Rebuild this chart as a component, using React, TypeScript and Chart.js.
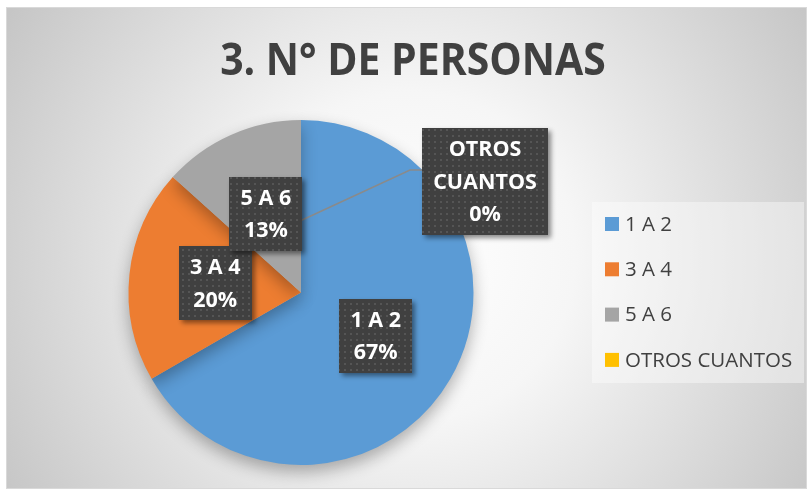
import React, { useEffect, useRef } from "react";
import { Chart, registerables } from "chart.js";

Chart.register(...registerables);

const TITLE = "3. N° DE PERSONAS";
const categories = ["1 A 2", "3 A 4", "5 A 6", "OTROS CUANTOS"];
const labelLines = [["1 A 2"], ["3 A 4"], ["5 A 6"], ["OTROS", "CUANTOS"]];
const counts = [10, 3, 2, 0];
const colors = ["#5B9BD5", "#ED7D31", "#A5A5A5", "#FFC000"];

const W = 801;
const H = 482;

function makePattern(ctx: CanvasRenderingContext2D) {
  const c = document.createElement("canvas");
  c.width = 6;
  c.height = 6;
  const p = c.getContext("2d")!;
  p.fillStyle = "#404040";
  p.fillRect(0, 0, 6, 6);
  p.fillStyle = "#555555";
  p.fillRect(2, 2, 2, 2);
  return ctx.createPattern(c, "repeat")!;
}

const bgPlugin = {
  id: "bgPlugin",
  beforeDraw(chart: any) {
    const ctx = chart.ctx as CanvasRenderingContext2D;
    ctx.save();
    const g = ctx.createRadialGradient(405, 250, 0, 405, 250, 470);
    g.addColorStop(0, "#ffffff");
    g.addColorStop(0.35, "#f6f6f6");
    g.addColorStop(1, "#c6c6c6");
    ctx.fillStyle = g;
    ctx.fillRect(0, 0, W, H);
    ctx.strokeStyle = "#d9d9d9";
    ctx.lineWidth = 1;
    ctx.strokeRect(0.5, 0.5, W - 1, H - 1);
    // title
    ctx.save();
    ctx.translate(407, 68);
    ctx.scale(0.93, 1);
    ctx.fillStyle = "#404040";
    ctx.font = "bold 44px 'Open Sans'";
    ctx.textAlign = "center";
    ctx.textBaseline = "alphabetic";
    ctx.fillText(TITLE, 0, 0);
    ctx.restore();
    // legend
    ctx.fillStyle = "rgba(255,255,255,0.4)";
    ctx.fillRect(586, 195, 212, 181);
    ctx.font = "20.5px 'Open Sans'";
    ctx.textAlign = "left";
    ctx.textBaseline = "middle";
    categories.forEach((c, i) => {
      const y = 217 + i * 45.3;
      ctx.fillStyle = colors[i];
      ctx.fillRect(599, y - 7, 14, 14);
      ctx.fillStyle = "#404040";
      ctx.fillText(c, 619, y + 1);
    });
    ctx.restore();
  },
  beforeDatasetsDraw(chart: any) {
    const ctx = chart.ctx as CanvasRenderingContext2D;
    ctx.save();
    ctx.shadowColor = "rgba(0,0,0,0.3)";
    ctx.shadowBlur = 16;
    ctx.shadowOffsetY = 7;
  },
  afterDatasetsDraw(chart: any) {
    const ctx = chart.ctx as CanvasRenderingContext2D;
    ctx.restore();
    const meta = chart.getDatasetMeta(0);
    const arc0 = meta.data[0];
    const cx = arc0.x;
    const cy = arc0.y;
    const total = counts.reduce((a, b) => a + b, 0);
    const pattern = makePattern(ctx);

    // leader line for last (zero) slice
    ctx.save();
    ctx.strokeStyle = "#8a8a8a";
    ctx.lineWidth = 1.5;
    ctx.beginPath();
    ctx.moveTo(cx, cy - 72);
    ctx.lineTo(cx + 109, cy - 122.5);
    ctx.lineTo(cx + 122, cy - 122.5);
    ctx.stroke();
    ctx.restore();

    [0, 1, 2, 3].forEach((i) => {
      const arc = meta.data[i];
      const p = arc.getCenterPoint();
      let px = p.x;
      let py = p.y;
      if (i === 3) {
        px = cx + 184;
        py = cy - 111;
      }
      const pct = Math.round((counts[i] / total) * 100) + "%";
      const lines = [...labelLines[i], pct];
      ctx.save();
      ctx.font = "bold 21.5px 'Open Sans'";
      const tw = Math.max(...lines.map((l) => ctx.measureText(l).width));
      const bw = Math.round(tw + 22);
      const lh = 32.5;
      const bh = Math.round(lines.length * lh + 9);
      const bx = Math.round(px - bw / 2);
      const by = Math.round(py - bh / 2);
      ctx.shadowColor = "rgba(0,0,0,0.45)";
      ctx.shadowBlur = 5;
      ctx.shadowOffsetX = 3;
      ctx.shadowOffsetY = 3;
      ctx.fillStyle = pattern;
      ctx.fillRect(bx, by, bw, bh);
      ctx.shadowColor = "transparent";
      ctx.fillStyle = "#ffffff";
      ctx.textAlign = "center";
      ctx.textBaseline = "middle";
      lines.forEach((l, k) => {
        const ly = py + (k - (lines.length - 1) / 2) * lh;
        ctx.fillText(l, px, ly + 1);
      });
      ctx.restore();
    });
  },
};

export default function App() {
  const ref = useRef<HTMLCanvasElement>(null);
  useEffect(() => {
    const chart = new Chart(ref.current!, {
      type: "pie",
      data: {
        labels: categories,
        datasets: [
          {
            data: counts,
            backgroundColor: colors,
            borderWidth: 0,
            hoverOffset: 0,
            offset: 0,
          },
        ],
      },
      options: {
        animation: false,
        responsive: false,
        events: [],
        layout: { padding: { top: 113, bottom: 24, left: 0, right: 211 } },
        plugins: {
          legend: { display: false },
          title: { display: false },
          tooltip: { enabled: false },
        },
      },
      plugins: [bgPlugin],
    });
    return () => chart.destroy();
  }, []);
  return (
    <div style={{ position: "fixed", left: 6, top: 7, width: W, height: H }}>
      <canvas ref={ref} width={W} height={H} style={{ width: W, height: H, display: "block" }} />
    </div>
  );
}
